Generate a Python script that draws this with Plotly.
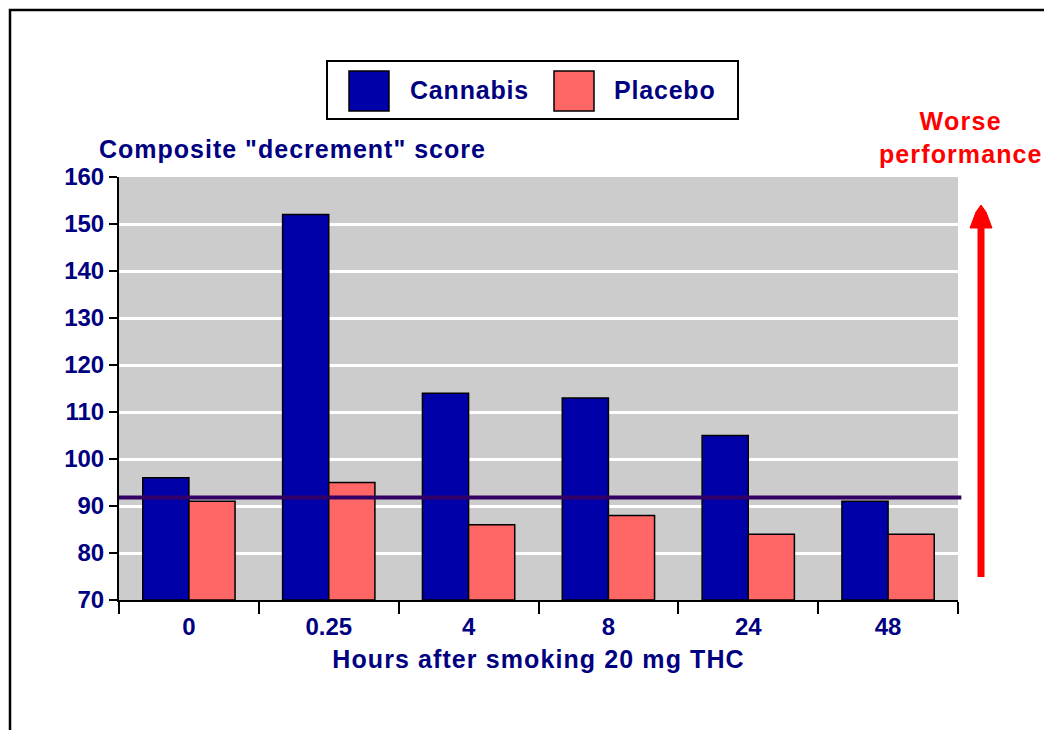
import plotly.graph_objects as go

# ---- data ----
hours = ["0", "0.25", "4", "8", "24", "48"]
cannabis = [96, 152, 114, 113, 105, 91]
placebo = [91, 95, 86, 88, 84, 84]
series_names = ["Cannabis", "Placebo"]
baseline_score = 91.8
y_ticks = [70, 80, 90, 100, 110, 120, 130, 140, 150, 160]

NAVY = "#000080"
BLUE = "#0000A8"
PINK = "#FF6666"
FONT = "Liberation Sans, Arial, Helvetica, sans-serif"
FS = 24
TS = 25


def spaced(t, ls=1.0):
    return f'<span style="letter-spacing:{ls}px">{t}</span>'


# page body has an 8px margin: figure is offset by (8, 8)
OFF = 8
W, H = 1052 - OFF, 738 - 2 * OFF
L, T = 119 - OFF, 177 - OFF
PW, PH = 839, 423
R, B = W - L - PW, H - T - PH


def px(xp):
    return (xp - 119) / PW


def py(yp):
    return (600 - yp) / PH


fig = go.Figure()
fig.add_trace(go.Bar(x=hours, y=[v - 70 for v in cannabis], base=70, name=series_names[0],
                     marker=dict(color=BLUE, line=dict(color="black", width=1.5)),
                     showlegend=False))
fig.add_trace(go.Bar(x=hours, y=[v - 70 for v in placebo], base=70, name=series_names[1],
                     marker=dict(color=PINK, line=dict(color="black", width=1.5)),
                     showlegend=False))

shapes = []
# baseline
shapes.append(dict(type="line", xref="paper", yref="y", x0=0, x1=1.004,
                   y0=baseline_score, y1=baseline_score,
                   line=dict(color="#330066", width=4), layer="above"))
# outer frame
shapes.append(dict(type="rect", xref="paper", yref="paper",
                   x0=px(10), x1=px(1080), y0=py(780), y1=py(10),
                   line=dict(color="black", width=2.5), fillcolor="rgba(0,0,0,0)"))
# legend box
shapes.append(dict(type="rect", xref="paper", yref="paper",
                   x0=px(327), x1=px(738), y0=py(119), y1=py(61),
                   line=dict(color="black", width=2), fillcolor="white"))
swatches = [(349, 389, BLUE), (554, 594, PINK)]
for x0, x1, c in swatches:
    shapes.append(dict(type="rect", xref="paper", yref="paper",
                       x0=px(x0), x1=px(x1), y0=py(111), y1=py(71),
                       line=dict(color="black", width=1.5), fillcolor=c))
# red arrow
shapes.append(dict(type="line", xref="paper", yref="paper",
                   x0=px(981), x1=px(981), y0=py(577), y1=py(226),
                   line=dict(color="#FF0000", width=7)))
shapes.append(dict(type="path", xref="paper", yref="paper",
                   path=f"M {px(970)} {py(228)} L {px(992)} {py(228)} L {px(986)} {py(212)} "
                        f"L {px(981)} {py(205)} L {px(976)} {py(212)} Z",
                   line=dict(color="#FF0000", width=1), fillcolor="#FF0000"))

annotations = []
for name, xt in zip(series_names, [408, 612]):
    annotations.append(dict(text=spaced(name, 0.8), xref="paper", yref="paper", x=px(xt), y=py(90),
                            xanchor="left", yanchor="middle", showarrow=False,
                            font=dict(family=FONT, size=TS, color=NAVY, weight="bold")))
annotations.append(dict(text=spaced('Composite "decrement" score', 1.0), xref="paper", yref="paper",
                        x=px(97), y=py(149), xanchor="left", yanchor="middle", showarrow=False,
                        font=dict(family=FONT, size=TS, color=NAVY, weight="bold")))
annotations.append(dict(text=spaced("Worse", 1.3) + "<br>" + spaced("performance", 1.1),
                        xref="paper", yref="paper",
                        x=px(961), y=py(137), xanchor="center", yanchor="middle", showarrow=False,
                        font=dict(family=FONT, size=TS, color="#FF0000", weight="bold")))

fig.update_layout(
    width=W, height=H,
    margin=dict(l=L, r=R, t=T, b=B, pad=0),
    paper_bgcolor="white", plot_bgcolor="#CCCCCC",
    barmode="group", bargap=0.34, bargroupgap=0,
    shapes=shapes, annotations=annotations,
    xaxis=dict(type="category", categoryorder="array", categoryarray=hours,
               showline=True, linecolor="black", linewidth=2,
               ticks="outside", tickson="boundaries", ticklen=12, tickwidth=1.5, tickcolor="black",
               showgrid=False, zeroline=False, ticklabelstandoff=4,
               tickfont=dict(family=FONT, size=FS, color=NAVY, weight="bold"),
               title=dict(text=spaced("Hours after smoking 20 mg THC", 1.1), standoff=12,
                          font=dict(family=FONT, size=TS, color=NAVY, weight="bold"))),
    yaxis=dict(range=[70, 160], tickvals=y_ticks,
               showline=True, linecolor="black", linewidth=2,
               ticks="outside", ticklen=8, tickwidth=1.5, tickcolor="black",
               showgrid=True, gridcolor="white", gridwidth=3, zeroline=False,
               tickfont=dict(family=FONT, size=FS, color=NAVY, weight="bold")),
)

fig.write_html("out.html")
